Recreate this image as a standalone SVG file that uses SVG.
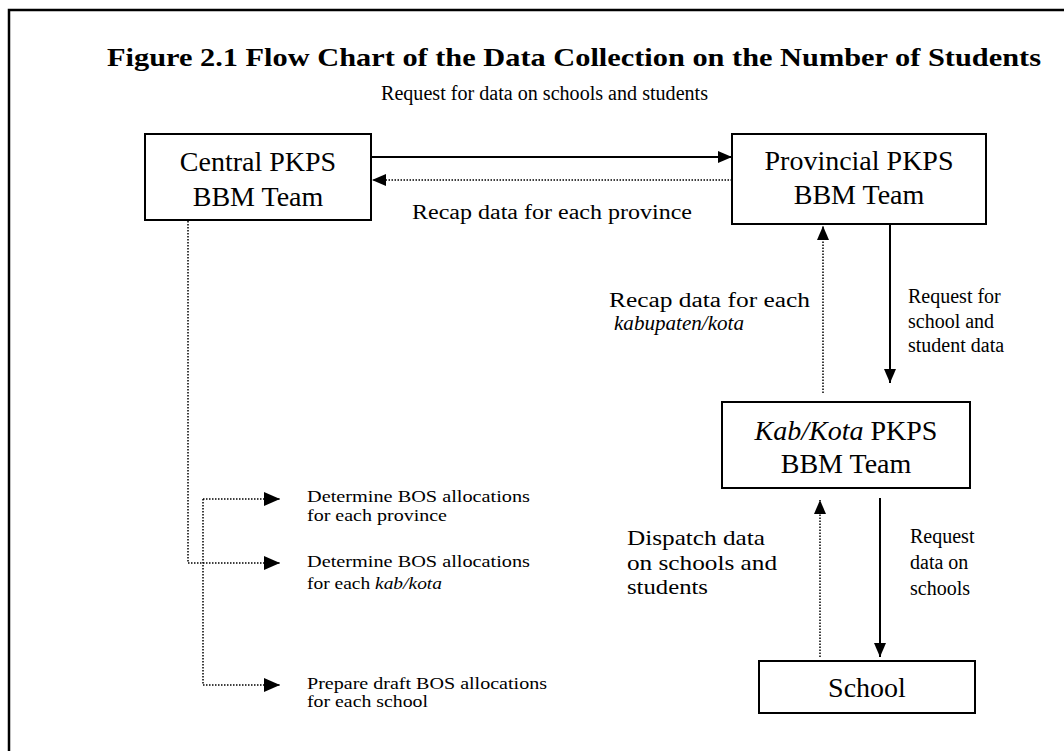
<svg xmlns="http://www.w3.org/2000/svg" width="1064" height="751" viewBox="0 0 1064 751">
<style>
.box{fill:#fff;stroke:#000;stroke-width:2}
.bt{font-family:"Liberation Serif",serif;font-size:28px;fill:#000;text-anchor:middle}
.lb{font-family:"Liberation Serif",serif;font-size:20px;fill:#000}
.lg{font-family:"Liberation Serif",serif;font-size:22px;fill:#000}
.sm{font-family:"Liberation Serif",serif;font-size:17px;fill:#000}
.solid{fill:none;stroke:#000;stroke-width:2}
.dot{fill:none;stroke:#000;stroke-width:1.5;stroke-dasharray:1.5 1.5}
</style>
<defs>
<marker id="ah" viewBox="0 0 14 12" refX="14" refY="6" markerWidth="14" markerHeight="12" orient="auto" markerUnits="userSpaceOnUse"><path d="M0,0 L14,6 L0,12 z" fill="#000"/></marker>
<marker id="ahs" viewBox="0 0 16 14" refX="16" refY="7" markerWidth="16" markerHeight="14" orient="auto" markerUnits="userSpaceOnUse"><path d="M0,0 L16,7 L0,14 z" fill="#000"/></marker>
</defs>
<rect width="1064" height="751" fill="#fff"/>
<path d="M9,751 V10 H1064" fill="none" stroke="#000" stroke-width="2.5"/>
<text x="107" y="66" font-family="Liberation Serif,serif" font-size="25" font-weight="bold" textLength="934" lengthAdjust="spacingAndGlyphs">Figure 2.1 Flow Chart of the Data Collection on the Number of Students</text>

<g id="central"><rect class="box" x="145" y="134" width="226" height="86"/><text class="bt" x="258" y="171">Central PKPS</text><text class="bt" x="258" y="206">BBM Team</text></g>
<g id="provincial"><rect class="box" x="732" y="134" width="254" height="90"/><text class="bt" x="859" y="170">Provincial PKPS</text><text class="bt" x="859" y="204">BBM Team</text></g>
<g id="kabkota"><rect class="box" x="722" y="402" width="248" height="86"/><text class="bt" x="846" y="440"><tspan font-style="italic">Kab/Kota</tspan> PKPS</text><text class="bt" x="846" y="473">BBM Team</text></g>
<g id="school"><rect class="box" x="759" y="661" width="216" height="52"/><text class="bt" x="867" y="697">School</text></g>

<g id="connectors">
<path class="solid" d="M371,157 H732" marker-end="url(#ah)"/>
<path class="dot" d="M732,180 H372" marker-end="url(#ah)"/>
<path class="solid" d="M890,225 V383" marker-end="url(#ah)"/>
<path class="dot" d="M823,393 V226" marker-end="url(#ah)"/>
<path class="dot" d="M820,657 V500" marker-end="url(#ah)"/>
<path class="solid" d="M880,498 V657" marker-end="url(#ah)"/>
<path class="dot" d="M188,221 V563 H280" marker-end="url(#ahs)"/>
<path class="dot" d="M203,499 V685"/>
<path class="dot" d="M203,499 H280" marker-end="url(#ahs)"/>
<path class="dot" d="M203,685 H280" marker-end="url(#ahs)"/>
</g>

<g id="labels">
<text class="lb" x="381" y="100" textLength="327" lengthAdjust="spacingAndGlyphs">Request for data on schools and students</text>
<text class="lb" x="412" y="219" textLength="280" lengthAdjust="spacingAndGlyphs">Recap data for each province</text>
<text class="lb" x="609" y="307" textLength="201" lengthAdjust="spacingAndGlyphs">Recap data for each</text>
<text class="lb" x="614" y="330" font-style="italic" textLength="130" lengthAdjust="spacingAndGlyphs">kabupaten/kota</text>
<text class="lb" x="908" y="303">Request for</text>
<text class="lb" x="908" y="328">school and</text>
<text class="lb" x="908" y="352">student data</text>
<text class="lg" x="627" y="545" textLength="138" lengthAdjust="spacingAndGlyphs">Dispatch data</text>
<text class="lg" x="627" y="570" textLength="150" lengthAdjust="spacingAndGlyphs">on schools and</text>
<text class="lg" x="627" y="594" textLength="81" lengthAdjust="spacingAndGlyphs">students</text>
<text class="lb" x="910" y="543">Request</text>
<text class="lb" x="910" y="569">data on</text>
<text class="lb" x="910" y="595">schools</text>
<text class="sm" x="307" y="502" textLength="223" lengthAdjust="spacingAndGlyphs">Determine BOS allocations</text>
<text class="sm" x="307" y="521" textLength="140" lengthAdjust="spacingAndGlyphs">for each province</text>
<text class="sm" x="307" y="567" textLength="223" lengthAdjust="spacingAndGlyphs">Determine BOS allocations</text>
<text class="sm" x="307" y="589" textLength="135" lengthAdjust="spacingAndGlyphs">for each <tspan font-style="italic">kab/kota</tspan></text>
<text class="sm" x="307" y="689" textLength="240" lengthAdjust="spacingAndGlyphs">Prepare draft BOS allocations</text>
<text class="sm" x="307" y="707" textLength="121" lengthAdjust="spacingAndGlyphs">for each school</text>
</g>
</svg>
